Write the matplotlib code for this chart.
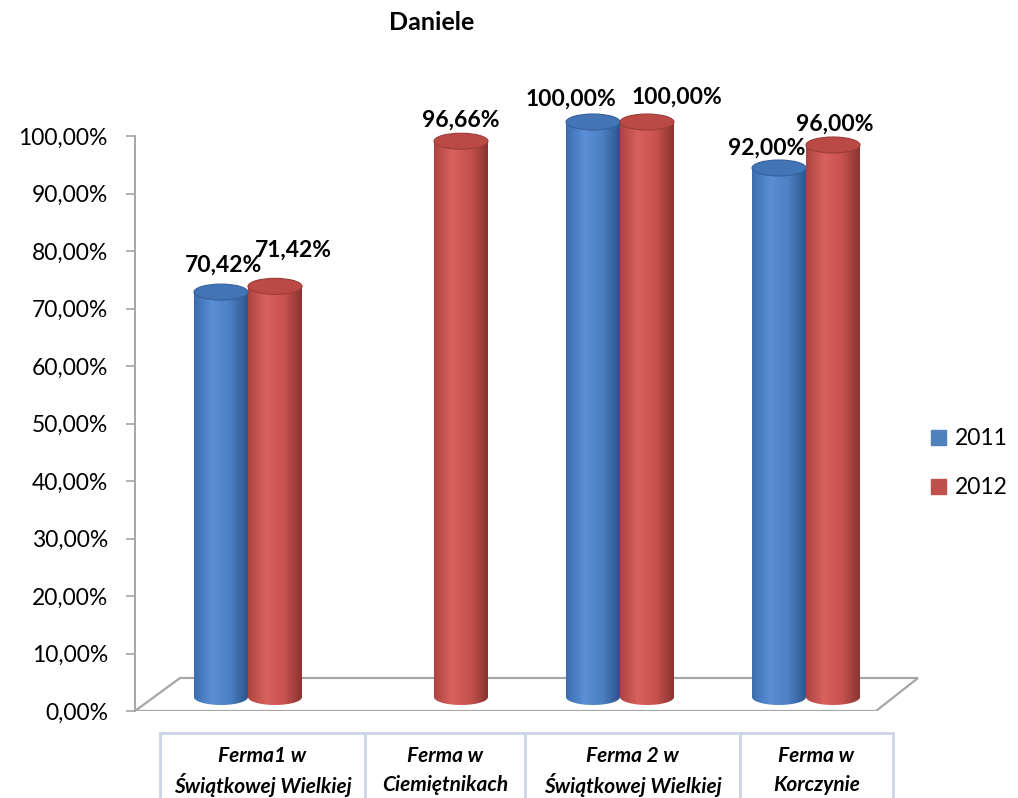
import matplotlib
matplotlib.use('Agg')
import matplotlib.pyplot as plt
from matplotlib import ticker
from matplotlib.colors import LinearSegmentedColormap
from matplotlib.patches import Ellipse, PathPatch, Polygon
from matplotlib.path import Path
from matplotlib.lines import Line2D
from matplotlib.transforms import ScaledTranslation
import numpy as np

plt.rcParams['font.family'] = ['Lato', 'DejaVu Sans']

title = 'Daniele'
categories = ['Ferma1 w\nŚwiątkowej Wielkiej', 'Ferma w\nCiemiętnikach',
              'Ferma 2 w\nŚwiątkowej Wielkiej', 'Ferma w\nKorczynie']
series = ['2011', '2012']
vals_2011 = [70.42, np.nan, 100.00, 92.00]
vals_2012 = [71.42, 96.66, 100.00, 96.00]

# label nudges in pixels (dx, dy above top of cylinder)
lab_off_2011 = [(3, 31), (0, 0), (-22, 27), (-12, 24)]
lab_off_2012 = [(18, 40), (0, 25), (30, 29), (2, 25)]

W, H = 1018, 798
fig = plt.figure(figsize=(W / 100, H / 100), dpi=100)
# axes is taller than the 0..100 scale so the tops of the cylinders are not clipped
y_top = 112
ax_l, ax_r, ax_bot = 135, 920, 711
ax_top = ax_bot - y_top * 5.75
ax = fig.add_axes([ax_l / W, (H - ax_bot) / H, (ax_r - ax_l) / W, (ax_bot - ax_top) / H])

px_per_unit = 186
x0_px = 248

bw = 54 / px_per_unit
ell_h = 16 / 5.75
lift = ScaledTranslation(0, 14 / 100, fig.dpi_scale_trans)
trans = ax.transData + lift

x = np.arange(len(categories))
cmaps = {
    '2011': LinearSegmentedColormap.from_list('b', ['#3b6cae', '#5a8fd6', '#4d80c3', '#2c548c']),
    '2012': LinearSegmentedColormap.from_list('r', ['#ad4440', '#d8615d', '#c8524e', '#8a3330']),
}
base = {'2011': '#4f81bd', '2012': '#c0504d'}
tops = {'2011': '#4274b6', '2012': '#bb4a47'}

grad = np.linspace(0, 1, 256).reshape(1, -1)

for name, vals, offs, dx in [('2011', vals_2011, lab_off_2011, -bw / 2),
                             ('2012', vals_2012, lab_off_2012, bw / 2)]:
    bars = ax.bar(x + dx, vals, width=bw, color=base[name], label=name,
                  transform=trans, zorder=3, linewidth=0)
    for rect, v, (ox, oy) in zip(bars, vals, offs):
        if np.isnan(v):
            continue
        rect.set_visible(False)
        xa = rect.get_x()
        xb = xa + rect.get_width()
        xc = (xa + xb) / 2
        a, b = (xb - xa) / 2, ell_h / 2
        t = np.linspace(np.pi, 2 * np.pi, 60)
        verts = [(xa, v), (xa, 0)] + list(zip(xc + a * np.cos(t), b * np.sin(t))) + [(xb, v), (xa, v)]
        codes = [Path.MOVETO] + [Path.LINETO] * (len(verts) - 2) + [Path.CLOSEPOLY]
        body = PathPatch(Path(verts, codes), facecolor='none', edgecolor='none', transform=trans)
        ax.add_patch(body)
        im = ax.imshow(grad, extent=(xa, xb, -b, v), transform=trans, cmap=cmaps[name],
                       aspect='auto', zorder=3, interpolation='bilinear')
        im.set_clip_path(body)
        ax.add_patch(Ellipse((xc, v), 2 * a, 2 * b, facecolor=tops[name], clip_on=False,
                             edgecolor=cmaps[name](0.9), lw=0.8, transform=trans, zorder=4))
        ax.annotate(f'{v:.2f}'.replace('.', ',') + '%', (xc, v), xycoords=trans,
                    xytext=(ox * 0.72, (oy - 4) * 0.72), textcoords='offset points',
                    ha='center', va='center', fontsize=16.5, fontweight='bold', zorder=5)

ax.set_xlim((ax_l - x0_px) / px_per_unit, (ax_r - x0_px) / px_per_unit)
ax.set_ylim(0, y_top)

# floor of the 3d plot (pixel corners turned into data units)
fx = lambda px: (px - x0_px) / px_per_unit
floor = Polygon([(fx(135), 0), (fx(876), 0), (fx(918), 33 / 5.75), (fx(180), 33 / 5.75)],
                closed=True, facecolor='white', edgecolor='#a6a6a6', lw=1.6, zorder=1)
ax.add_patch(floor)

for s in ['top', 'right', 'bottom']:
    ax.spines[s].set_visible(False)
ax.spines['left'].set_color('#a6a6a6')
ax.spines['left'].set_linewidth(1.4)
ax.spines['left'].set_bounds(0, 100)
ax.set_xticks([])
ax.set_yticks(np.arange(0, 101, 10))
ax.yaxis.set_major_formatter(ticker.FuncFormatter(lambda y, pos: ('%.2f%%' % y).replace('.', ',')))
ax.tick_params(axis='y', length=6.5, width=1.2, color='#a6a6a6', labelsize=16.5, pad=13)
ax.patch.set_visible(False)

fig.text(432 / W, 1 - 22 / H, title, ha='center', va='center', fontsize=18, fontweight='bold')

# category table under the chart
edges = [160, 365, 525, 740, 893]
tcol = '#c9d5e6'
ytab = 1 - 733 / H
fig.add_artist(Line2D([edges[0] / W, edges[-1] / W], [ytab, ytab], color=tcol, lw=2))
for e in edges:
    fig.add_artist(Line2D([e / W, e / W], [0, ytab], color=tcol, lw=2))
for i, cat in enumerate(categories):
    cx = (edges[i] + edges[i + 1]) / 2 / W
    l1, l2 = cat.split('\n')
    fig.text(cx, 1 - 756 / H, l1, ha='center', va='center', fontsize=15,
             fontweight='bold', style='italic')
    fig.text(cx, 1 - 785 / H, l2, ha='center', va='center', fontsize=15,
             fontweight='bold', style='italic')

fig.legend(handles=[Line2D([], [], ls='none', marker='s', markersize=10.8, markerfacecolor=base[s],
                           markeredgecolor=base[s]) for s in series],
           labels=series, loc='center left', bbox_to_anchor=(930 / W, 1 - 463 / H),
           frameon=False, fontsize=16.5, labelspacing=1.25, handlelength=0.7,
           handletextpad=0.4, borderpad=0, borderaxespad=0)

fig.savefig('out.png', dpi=100)
